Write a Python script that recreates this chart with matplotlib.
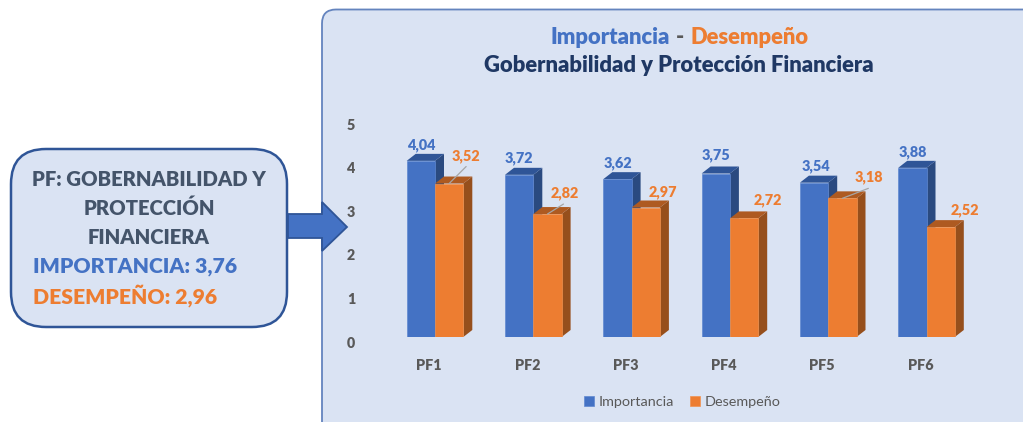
import matplotlib
matplotlib.use('Agg')
import matplotlib.pyplot as plt
from matplotlib.patches import FancyBboxPatch, Polygon
from matplotlib.transforms import ScaledTranslation

plt.rcParams['font.family'] = ['Lato', 'DejaVu Sans']

categories = ['PF1', 'PF2', 'PF3', 'PF4', 'PF5', 'PF6']
importancia = [4.04, 3.72, 3.62, 3.75, 3.54, 3.88]
desempeno = [3.52, 2.82, 2.97, 2.72, 3.18, 2.52]
y_ticks = [0, 1, 2, 3, 4, 5]

BLUE, BLUE_TOP, BLUE_SIDE = '#4472C4', '#2F5597', '#2A4A80'
ORANGE, ORANGE_TOP, ORANGE_SIDE = '#ED7D31', '#AE5A21', '#964F1C'
PANEL = '#DAE3F3'
GREY = '#595959'
WEIGHT = 'heavy'

W, H = 1023, 422
fig = plt.figure(figsize=(W / 100, H / 100), dpi=100, facecolor='white')

# background layer in pixel coordinates (panels, arrow, titles)
bg = fig.add_axes([0, 0, 1, 1])
bg.set_xlim(0, W)
bg.set_ylim(H, 0)
bg.axis('off')

bg.add_patch(FancyBboxPatch((322 + 14, 9.5 + 14), 800, 500, boxstyle='round,pad=14,rounding_size=14',
                            fc=PANEL, ec='#6484BE', lw=1.3))
bg.add_patch(FancyBboxPatch((11 + 35, 149 + 35), 276 - 70, 178 - 70, boxstyle='round,pad=35,rounding_size=35',
                            fc=PANEL, ec='#2F5597', lw=1.8))
bg.add_patch(Polygon([(288, 214), (322, 214), (322, 202), (347, 227), (322, 251), (322, 238), (288, 238)],
                     fc=BLUE, ec='#2F5597', lw=1.3, zorder=3))

# left box text
for txt, y in [('PF: GOBERNABILIDAD Y', 180), ('PROTECCIÓN', 208), ('FINANCIERA', 237)]:
    bg.text(149, y, txt, color='#44546A', fontsize=14.6, fontweight=WEIGHT, ha='center', va='center')
bg.text(33, 267, 'IMPORTANCIA: 3,76', color=BLUE, fontsize=15.2, fontweight=WEIGHT, va='center')
bg.text(33, 296, 'DESEMPEÑO: 2,96', color=ORANGE, fontsize=15.2, fontweight=WEIGHT, va='center')

# chart title
bg.text(551, 38, 'Importancia', color=BLUE, fontsize=15.8, fontweight=WEIGHT, va='center')
bg.text(680, 38, '-', color=GREY, fontsize=15.8, fontweight=WEIGHT, va='center', ha='center')
bg.text(690, 38, 'Desempeño', color=ORANGE, fontsize=15.8, fontweight=WEIGHT, va='center')
bg.text(679, 66, 'Gobernabilidad y Protección Financiera', color='#1F3864', fontsize=15.85,
        fontweight=WEIGHT, va='center', ha='center')

# chart axes: 98.3 px per category, 43.6 px per unit, y=0 at pixel 337
x0, x1, y_bottom = 380, 1000, 337
ax = fig.add_axes([x0 / W, 1 - y_bottom / H, (x1 - x0) / W, 5 * 43.6 / H])
ax.patch.set_alpha(0)
ax.set_xlim((x0 - 435) / 98.3, (x1 - 435) / 98.3)
ax.set_ylim(0, 5)
for s in ax.spines.values():
    s.set_visible(False)

width = 28.3 / 98.3
dx, dy = 9 / 98.3, 7 / 43.6
xs = list(range(len(categories)))


def draw_bars(positions, values, color, top, side, edge, label, z):
    for x, v in zip(positions, values):
        ax.add_patch(Polygon([(x + width / 2, 0), (x + width / 2 + dx, dy), (x + width / 2 + dx, v + dy), (x + width / 2, v)],
                             fc=side, ec='none', zorder=z))
        ax.add_patch(Polygon([(x - width / 2, v), (x + width / 2, v), (x + width / 2 + dx, v + dy), (x - width / 2 + dx, v + dy)],
                             fc=top, ec='none', zorder=z))
    return ax.bar(positions, values, width, color=color, edgecolor=edge, linewidth=0.5, label=label, zorder=z + 0.5)


draw_bars([x - width / 2 for x in xs], importancia, BLUE, BLUE_TOP, BLUE_SIDE, '#6088D0', 'Importancia', 2)
draw_bars([x + width / 2 for x in xs], desempeno, ORANGE, ORANGE_TOP, ORANGE_SIDE, '#F0924F', 'Desempeño', 3)

# data labels, placed by hand in the original (offsets in px)
imp_off = [(0, 16), (0, 17), (0, 16), (0, 18), (2, 17), (0, 16)]
des_off = [(17, 27), (17, 21), (17, 15), (24, 18), (26, 21), (24, 17)]
for i, x in enumerate(xs):
    ax.annotate(f'{importancia[i]:.2f}'.replace('.', ','), (x - width / 2, importancia[i]),
                xytext=(imp_off[i][0] * 0.72, imp_off[i][1] * 0.72), textcoords='offset points',
                color=BLUE, fontsize=10.4, fontweight=WEIGHT, ha='center', va='center', zorder=6)
    ax.annotate(f'{desempeno[i]:.2f}'.replace('.', ','), (x + width / 2, desempeno[i]),
                xytext=(des_off[i][0] * 0.72, des_off[i][1] * 0.72), textcoords='offset points',
                color=ORANGE, fontsize=10.4, fontweight=WEIGHT, ha='center', va='center', zorder=6)

# leader lines on the labels that were dragged away
leaders = {0: (17, 17), 1: (16, 10), 4: (26, 10)}
for i, (ex, ey) in leaders.items():
    ax.annotate('', (xs[i] + width / 2, desempeno[i]), xytext=(ex * 0.72, ey * 0.72), textcoords='offset points',
                arrowprops=dict(arrowstyle='-', color='#A6A6A6', lw=0.9, shrinkA=0, shrinkB=0), zorder=5)

ax.set_xticks(xs, categories)
ax.set_yticks(y_ticks, [str(t) for t in y_ticks])
ax.tick_params(length=0, labelcolor=GREY, labelsize=10.3)
ax.tick_params(axis='y', pad=18)
ax.tick_params(axis='x', pad=16)
for lab in ax.get_yticklabels():
    lab.set_fontweight(WEIGHT)
    lab.set_transform(lab.get_transform() + ScaledTranslation(0, -5 / 100, fig.dpi_scale_trans))
for lab in ax.get_xticklabels():
    lab.set_fontweight(WEIGHT)
    lab.set_transform(lab.get_transform() + ScaledTranslation(-6 / 100, 0, fig.dpi_scale_trans))

fig.legend(*ax.get_legend_handles_labels(), loc='center', bbox_to_anchor=(682 / W, 1 - 402 / H), ncol=2, frameon=False,
           fontsize=10.4, labelcolor=GREY, handlelength=0.7, handleheight=0.7, handletextpad=0.3, columnspacing=1.1)

fig.savefig('out.png', dpi=100)
